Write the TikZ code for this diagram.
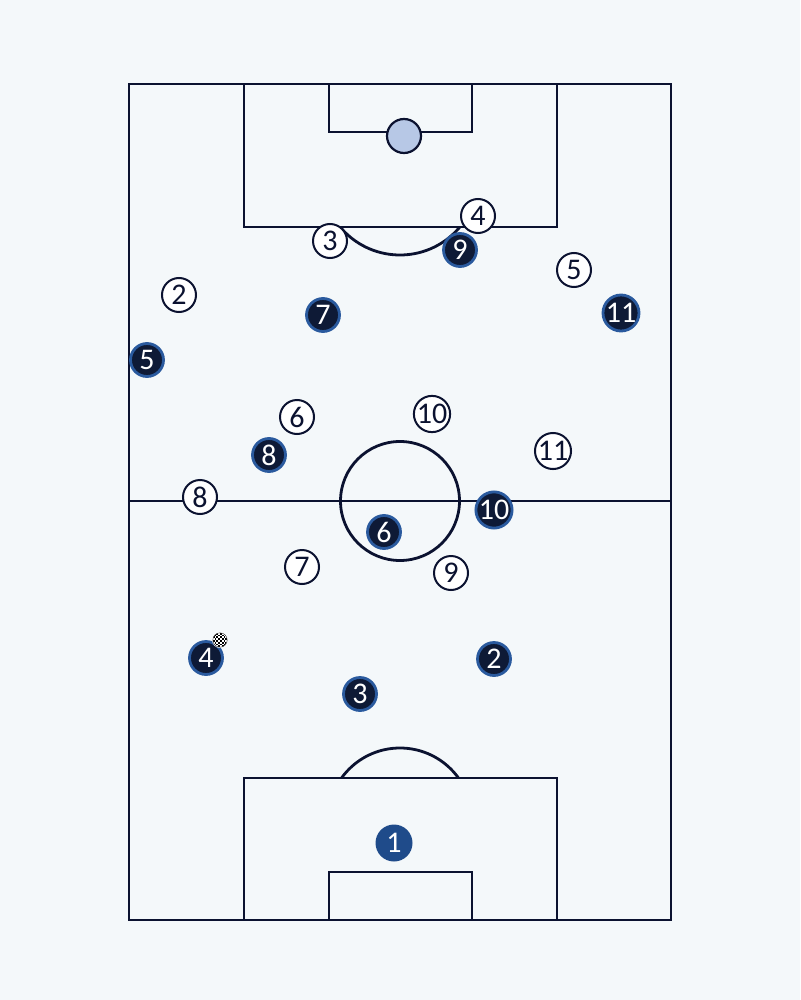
\documentclass[tikz,border=0pt]{standalone}
\usepackage{fontspec}
\setmainfont{Carlito}
\definecolor{bgc}{HTML}{F4F8FA}
\definecolor{linec}{HTML}{0B1230}
\definecolor{darkp}{HTML}{0E1A36}
\definecolor{darkedge}{HTML}{2A5A9E}
\definecolor{gkc}{HTML}{1F4B8A}
\definecolor{ballc}{HTML}{B7C8E6}
\newcommand{\numfont}{\fontsize{30pt}{30pt}\selectfont}
\begin{document}
\begin{tikzpicture}[x=1pt,y=-1pt,
  pitchline/.style={draw=linec,line width=2.8pt},
  whitep/.style={circle,draw=linec,fill=white,line width=2pt,minimum size=34pt,inner sep=0pt,font=\numfont,text=linec},
  darkplayer/.style={circle,draw=darkedge,fill=darkp,line width=2.8pt,minimum size=33pt,inner sep=0pt,font=\numfont,text=white},
  keeper/.style={circle,fill=gkc,minimum size=37pt,inner sep=0pt,font=\numfont,text=white}]
\fill[bgc] (0,0) rectangle (800,1000);
\useasboundingbox (0,0) rectangle (800,1000);
% pitch
\draw[pitchline] (129,84) rectangle (671,920);
\draw[pitchline] (129,501) -- (671,501);
\draw[pitchline] (400,501) circle[radius=59.5];
\draw[pitchline] (244,84) -- (244,227) -- (557,227) -- (557,84);
\draw[pitchline] (329,84) -- (329,132) -- (472,132) -- (472,84);
\draw[pitchline] (244,920) -- (244,778) -- (557,778) -- (557,920);
\draw[pitchline] (329,920) -- (329,872) -- (472,872) -- (472,920);
\begin{scope}
\clip (129,227) rectangle (671,300);
\draw[pitchline] (400,177) circle[radius=78];
\end{scope}
\begin{scope}
\clip (129,700) rectangle (671,778);
\draw[pitchline] (400,820) circle[radius=72];
\end{scope}
% ball at top
\node[circle,draw=linec,fill=ballc,line width=2.2pt,minimum size=34pt,inner sep=0pt] (topball) at (404,136) {};
% white team
\node[whitep] (w3) at (330,241) {3};
\node[whitep] (w4) at (478,216) {4};
\node[whitep] (w5) at (574,270) {5};
\node[whitep] (w2) at (179,295) {2};
\node[whitep] (w6) at (297,417) {6};
\node[whitep] (w10) at (432,414) {10};
\node[whitep] (w11) at (553,451) {11};
\node[whitep] (w8) at (200,497) {8};
\node[whitep] (w7) at (302,567) {7};
\node[whitep] (w9) at (451,573) {9};
% dark team
\node[darkplayer] (d9) at (460,250) {9};
\node[darkplayer] (d7) at (323,315) {7};
\node[darkplayer] (d11) at (621,313) {11};
\node[darkplayer] (d5) at (147,360) {5};
\node[darkplayer] (d8) at (269,455) {8};
\node[darkplayer] (d10) at (494,510) {10};
\node[darkplayer] (d6) at (384,532) {6};
\node[darkplayer] (d4) at (206,658) {4};
\node[darkplayer] (d2) at (494,659) {2};
\node[darkplayer] (d3) at (360,694) {3};
\node[keeper] (gk) at (394,843) {1};
% small ball
\node[circle,fill=white,draw=white,line width=0.8pt,minimum size=15pt,inner sep=0pt] (sball) at (220,640) {};
\begin{scope}
\clip (220,640) circle[radius=7.2];
\foreach \i in {-4,...,4}{
  \foreach \j in {-4,...,4}{
    \pgfmathtruncatemacro{\parity}{mod(\i+\j+8,2)}
    \ifnum\parity=0
      \fill[black] (220+\i*1.8,640+\j*1.8) rectangle ++(1.8,1.8);
    \fi
  }
}
\end{scope}
\draw[black!70,line width=0.5pt] (220,640) circle[radius=7.2];
\end{tikzpicture}
\end{document}
